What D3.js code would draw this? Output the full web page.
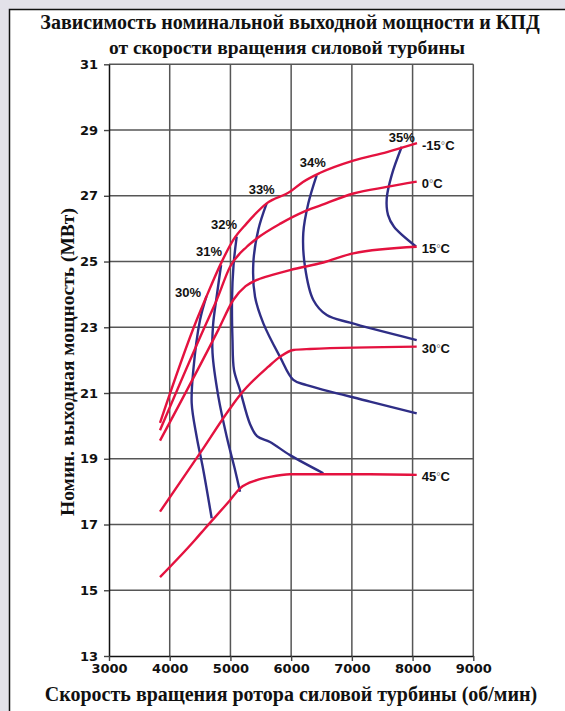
<!DOCTYPE html>
<html>
<head>
<meta charset="utf-8">
<script src="https://cdn.jsdelivr.net/npm/d3@7/dist/d3.min.js"></script>
<style>
  html, body { margin: 0; padding: 0; background: #e3e1e9; }
  svg { display: block; }
</style>
</head>
<body>
<svg id="chart" width="565" height="711"></svg>
<script>
// Axis ticks
const xTicks = [3000, 4000, 5000, 6000, 7000, 8000, 9000];
const yTicks = [13, 15, 17, 19, 21, 23, 25, 27, 29, 31];

// Rated output power vs. power-turbine speed, one curve per ambient temperature
const tempLabels = ["-15", "0", "15", "30", "45"];
const powerM15 = [[3840,20.09],[4444,23.22],[4581,23.83],[4856,24.99],[5047,25.66],[5268,26.16],[5597,26.77],[5980,27.12],[6195,27.42],[6480,27.70],[7024,28.07],[7579,28.33],[8073,28.60]];
const power0   = [[3840,19.87],[4553,22.92],[4774,23.83],[4994,24.84],[5270,25.45],[5434,25.70],[5830,26.16],[6203,26.51],[6475,26.70],[7027,27.07],[7577,27.27],[8068,27.43]];
const power15  = [[3840,19.55],[4800,22.92],[5047,23.83],[5250,24.25],[5450,24.45],[5706,24.60],[5981,24.74],[6530,24.97],[7024,25.25],[8068,25.45]];
const power30  = [[3840,17.39],[4499,19.17],[4993,20.53],[5158,20.94],[5624,21.80],[5817,22.10],[6036,22.31],[6310,22.34],[8068,22.41]];
const power45  = [[3840,15.40],[4416,16.53],[4581,16.88],[4993,17.74],[5158,18.10],[5433,18.35],[5653,18.45],[5981,18.53],[7298,18.53],[8068,18.51]];

// Efficiency contours
const effLabels = ["30%", "31%", "32%", "33%", "34%", "35%"];
const eff30 = [[4606,23.95],[4499,23.22],[4389,21.70],[4362,20.69],[4444,19.67],[4553,18.66],[4691,17.19]];
const eff31 = [[4846,24.89],[4780,24.02],[4714,23.07],[4705,22.22],[4801,20.89],[4939,19.67],[5076,18.66],[5158,18.00]];
const eff32 = [[5103,25.76],[5051,24.89],[5026,23.83],[5034,22.62],[5059,21.70],[5158,21.09],[5322,20.06],[5438,19.69],[5652,19.51],[5981,19.11],[6530,18.56]];
const eff33 = [[5597,26.77],[5459,25.97],[5377,24.95],[5405,23.93],[5542,23.12],[5817,22.10],[6036,21.40],[6256,21.24],[7298,20.74],[8068,20.38]];
const eff34 = [[6421,27.63],[6283,26.77],[6200,25.87],[6228,24.84],[6365,23.83],[6586,23.37],[6969,23.14],[8068,22.61]];
const eff35 = [[7821,28.49],[7656,27.63],[7574,26.92],[7595,26.42],[7694,26.06],[8056,25.46]];

const powerSeries = [powerM15, power0, power15, power30, power45];
const effSeries = [eff30, eff31, eff32, eff33, eff34, eff35];

// Label placement relative to the start of each contour (pixels)
const effLabelOffsets = [[-18.5,-4],[-12,-14],[-12.7,-11.7],[-5,-14],[-4,-12.5],[0,-9.5]];

const RED = "#e4123f";
const BLUE = "#2f2e86";
const GRID = "#565656";

const svg = d3.select("#chart");

// white panel with a black frame on the left and top
svg.append("rect").attr("x", 9).attr("y", 9).attr("width", 600).attr("height", 720)
  .attr("fill", "#ffffff");
svg.append("path").attr("d", "M9.5,711V9.5H565").attr("fill", "none")
  .attr("stroke", "#111").attr("stroke-width", 1.5);

const x = d3.scaleLinear().domain([3000, 9000]).range([109, 473.3]);
const y = d3.scaleLinear().domain([13, 31]).range([656, 64.3]);

// grid
const grid = svg.append("g");
grid.selectAll("line.v").data(xTicks.slice(1)).join("line")
  .attr("x1", d => x(d)).attr("x2", d => x(d))
  .attr("y1", y(31)).attr("y2", y(13))
  .attr("stroke", GRID).attr("stroke-width", 1.5);
grid.selectAll("line.h").data(yTicks.slice(1)).join("line")
  .attr("x1", x(3000)).attr("x2", x(9000))
  .attr("y1", d => y(d)).attr("y2", d => y(d))
  .attr("stroke", GRID).attr("stroke-width", 1.5);

// axes
const tickFont = "'DejaVu Sans', sans-serif";
const yAxis = svg.append("g").attr("transform", `translate(${x(3000)},0)`)
  .call(d3.axisLeft(y).tickValues(yTicks).tickSize(5).tickPadding(6).tickSizeOuter(0));
const xAxis = svg.append("g").attr("transform", `translate(0,${y(13)})`)
  .call(d3.axisBottom(x).tickValues(xTicks).tickSize(5).tickPadding(3).tickSizeOuter(0).tickFormat(d3.format("d")));
[yAxis, xAxis].forEach(g => {
  g.select(".domain").attr("stroke", "#111").attr("stroke-width", 1.5);
  g.selectAll(".tick line").attr("stroke", "#444").attr("stroke-width", 1.4);
  g.selectAll(".tick text").attr("fill", "#111")
    .style("font-family", tickFont).style("font-weight", "bold").style("font-size", "13px");
});

const blueLine = d3.line().x(d => x(d[0])).y(d => y(d[1])).curve(d3.curveCatmullRom.alpha(0.5));
const redLine = d3.line().x(d => x(d[0])).y(d => y(d[1])).curve(d3.curveMonotoneX);

// efficiency contours
svg.append("g").selectAll("path").data(effSeries).join("path")
  .attr("d", blueLine).attr("fill", "none").attr("stroke", BLUE).attr("stroke-width", 2.4);

// power curves
svg.append("g").selectAll("path").data(powerSeries).join("path")
  .attr("d", redLine).attr("fill", "none").attr("stroke", RED).attr("stroke-width", 2.4);

const labelFont = "'Liberation Sans', Arial, sans-serif";

// efficiency labels
svg.append("g").selectAll("text").data(effSeries).join("text")
  .attr("x", (d, i) => x(d[0][0]) + effLabelOffsets[i][0])
  .attr("y", (d, i) => y(d[0][1]) + effLabelOffsets[i][1])
  .attr("text-anchor", "middle").attr("dominant-baseline", "central")
  .style("font-family", labelFont).style("font-weight", "bold").style("font-size", "13px")
  .attr("fill", "#111")
  .text((d, i) => effLabels[i]);

// temperature labels at the curve ends
const tl = svg.append("g").selectAll("text").data(powerSeries).join("text")
  .attr("x", d => x(d[d.length - 1][0]) + 5)
  .attr("y", d => y(d[d.length - 1][1]) + 1.5)
  .attr("dominant-baseline", "central")
  .style("font-family", labelFont).style("font-weight", "bold").style("font-size", "13px")
  .attr("fill", "#111");
tl.append("tspan").text((d, i) => tempLabels[i]);
tl.append("tspan").text("°").style("font-weight", "normal").style("font-size", "11px").attr("fill", "#777");
tl.append("tspan").text("C");

// titles
const serif = "'Liberation Serif', 'Times New Roman', serif";
const title = svg.append("text").attr("text-anchor", "middle")
  .style("font-family", serif).style("font-weight", "bold").attr("fill", "#111");
title.append("tspan").attr("x", 290).attr("y", 29).style("font-size", "20px")
  .text("Зависимость номинальной выходной мощности и КПД");
title.append("tspan").attr("x", 287).attr("y", 54).style("font-size", "19.5px")
  .text("от скорости вращения силовой турбины");

svg.append("text").attr("x", 291).attr("y", 701).attr("text-anchor", "middle")
  .style("font-family", serif).style("font-weight", "bold").style("font-size", "20px").attr("fill", "#111")
  .text("Скорость вращения ротора силовой турбины (об/мин)");

svg.append("text").attr("transform", "translate(74,362) rotate(-90)").attr("text-anchor", "middle")
  .style("font-family", serif).style("font-weight", "bold").style("font-size", "19.5px").attr("fill", "#111")
  .text("Номин. выходная мощность (МВт)");
</script>
</body>
</html>
